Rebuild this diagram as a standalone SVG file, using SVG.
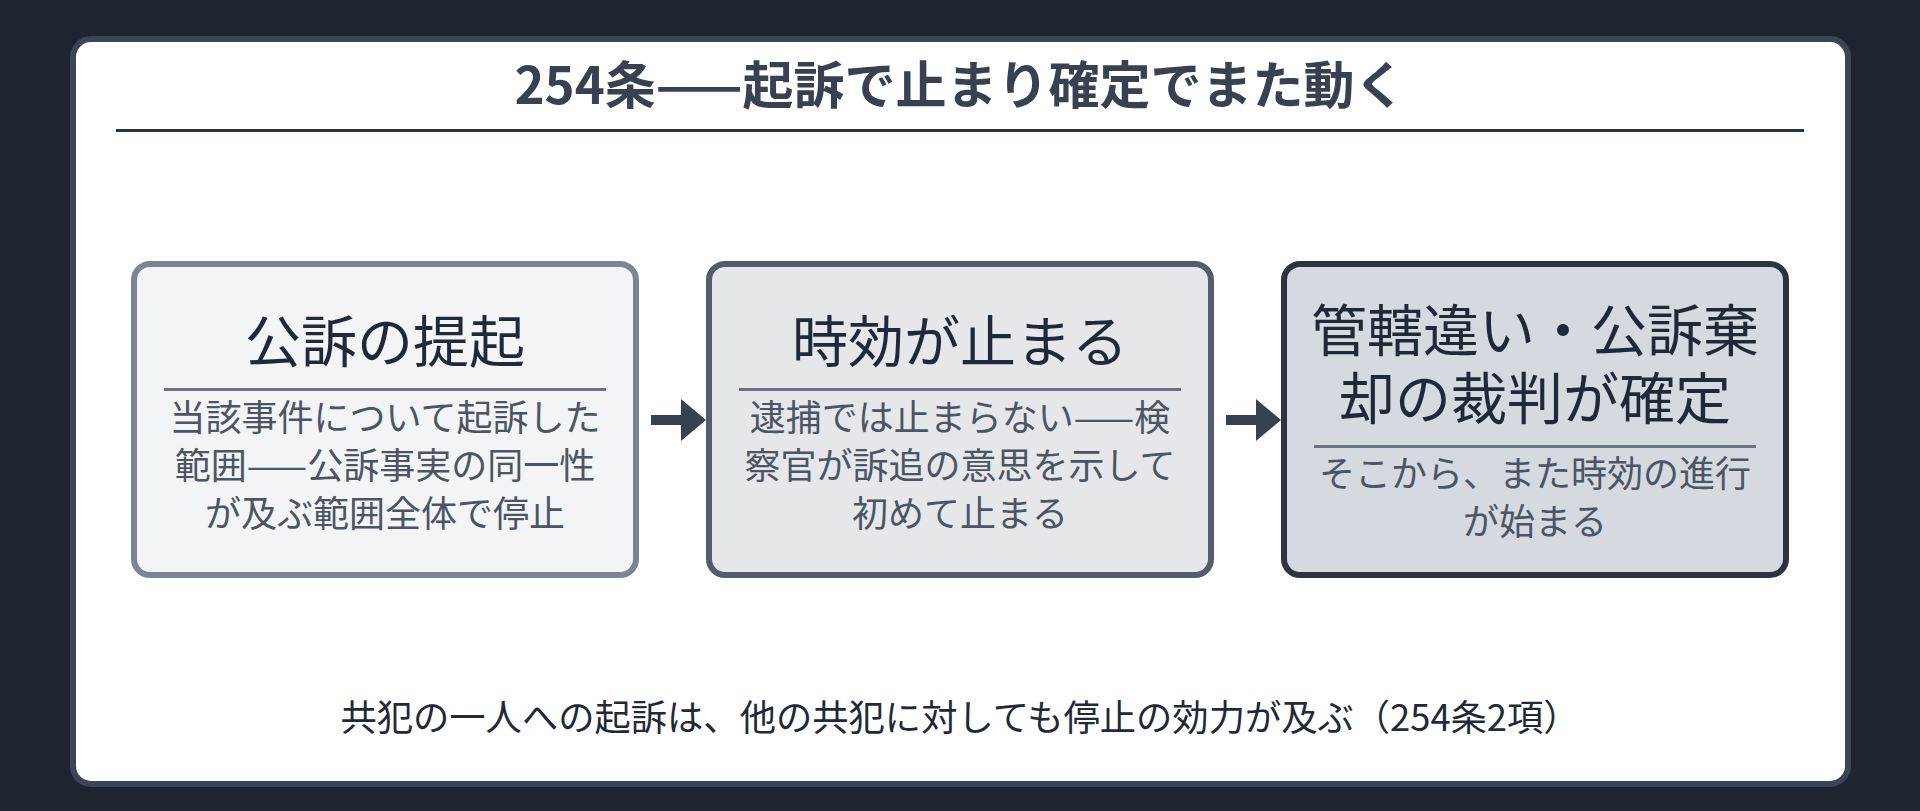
<svg xmlns="http://www.w3.org/2000/svg" width="1920" height="811" viewBox="0 0 1920 811">
<style>
text{font-family:"Noto Sans CJK JP","Noto Sans CJK SC",sans-serif;text-anchor:middle}
.title{font-size:51px;font-weight:700;fill:#374151}
.head{font-size:56px;fill:#1f2937}
.body{font-size:36px;fill:#4b5563}
.foot{font-size:36.3px;fill:#1f2937}
.div{stroke:#6b7280;stroke-width:3}
.arrow{stroke:#374151;stroke-width:10;fill:none}
</style>
<defs>
<marker id="ah" markerUnits="userSpaceOnUse" viewBox="0 0 25 42" refX="0" refY="21" markerWidth="25" markerHeight="42" orient="auto">
<path d="M0,0 L25,21 L0,42 Z" fill="#374151"/>
</marker>
</defs>
<rect x="0" y="0" width="1920" height="811" fill="#1e2530"/>
<rect x="73" y="39" width="1775" height="745" rx="18" fill="#ffffff" stroke="#3b4555" stroke-width="6"/>
<g id="title">
<text class="title" x="960" y="104">254条——起訴で止まり確定でまた動く</text>
<line x1="116" y1="130.5" x2="1804" y2="130.5" stroke="#2d3440" stroke-width="3"/>
</g>
<g id="node1">
<rect x="134" y="264" width="502" height="311" rx="16" fill="#f3f4f6" stroke="#7c8594" stroke-width="6"/>
<text class="head" x="385" y="362">公訴の提起</text>
<line class="div" x1="164" y1="389.5" x2="606" y2="389.5"/>
<text class="body" x="385" y="431">当該事件について起訴した</text>
<text class="body" x="385" y="479">範囲——公訴事実の同一性</text>
<text class="body" x="385" y="527">が及ぶ範囲全体で停止</text>
</g>
<g id="node2">
<rect x="709" y="264" width="502" height="311" rx="16" fill="#e5e7eb" stroke="#525c6b" stroke-width="6"/>
<text class="head" x="960" y="362">時効が止まる</text>
<line class="div" x1="739" y1="389.5" x2="1181" y2="389.5"/>
<text class="body" x="960" y="431">逮捕では止まらない——検</text>
<text class="body" x="960" y="479">察官が訴追の意思を示して</text>
<text class="body" x="960" y="527">初めて止まる</text>
</g>
<g id="node3">
<rect x="1284" y="264" width="502" height="311" rx="16" fill="#d5d9e0" stroke="#2d3440" stroke-width="6"/>
<text class="head" x="1535" y="351">管轄違い・公訴棄</text>
<text class="head" x="1535" y="419">却の裁判が確定</text>
<line class="div" x1="1314" y1="446.5" x2="1756" y2="446.5"/>
<text class="body" x="1535" y="487">そこから、また時効の進行</text>
<text class="body" x="1535" y="535">が始まる</text>
</g>
<g id="connectors">
<line class="arrow" x1="651" y1="420" x2="681" y2="420" marker-end="url(#ah)"/>
<line class="arrow" x1="1226" y1="420" x2="1256" y2="420" marker-end="url(#ah)"/>
</g>
<g id="footer">
<text class="foot" x="960" y="731">共犯の一人への起訴は、他の共犯に対しても停止の効力が及ぶ（254条2項）</text>
</g>
</svg>
